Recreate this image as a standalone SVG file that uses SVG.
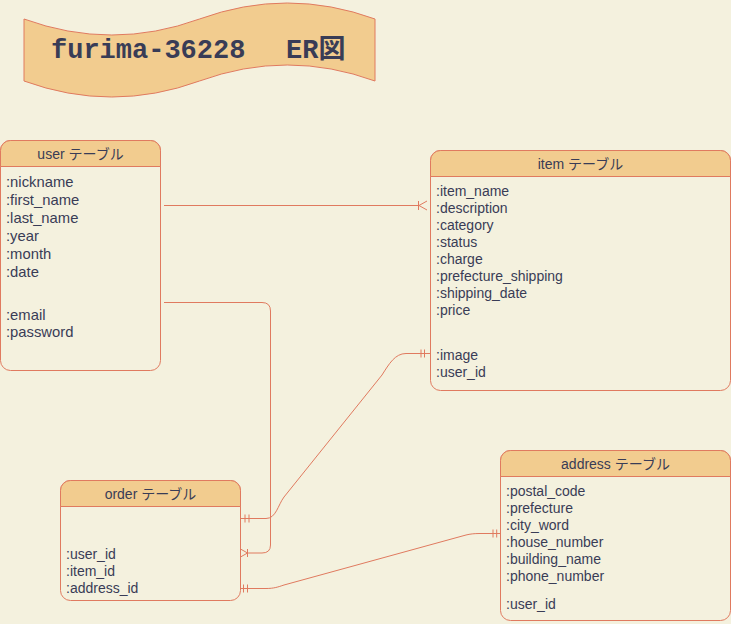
<svg xmlns="http://www.w3.org/2000/svg" width="731" height="624" viewBox="0 0 731 624">
<defs>
<style>
.bg{fill:#F4F1DE}
.box{fill:#F4F1DE;stroke:#E07A5F;stroke-width:1}
.hdr{fill:#F2CC8F;stroke:#E07A5F;stroke-width:1}
.t{font-family:"Liberation Sans","Noto Sans CJK JP",Arial,sans-serif;font-size:14px;fill:#393C56}
.th{font-family:"Liberation Sans","Noto Sans CJK JP",Arial,sans-serif;font-size:14px;fill:#393C56;text-anchor:middle}
.tu{font-size:14.8px}
.title{font-family:"Liberation Mono","Noto Sans CJK JP",monospace;font-size:27px;font-weight:bold;fill:#393C56}
.ln{fill:none;stroke:#E07A5F;stroke-width:1}
</style>
</defs>
<rect class="bg" x="0" y="0" width="731" height="624"/>

<g id="title">
<path d="M24,19 Q111.75,51 199.5,19 Q287.25,-13 375,19 L375,81 Q287.25,49 199.5,81 Q111.75,113 24,81 Z" fill="#F2CC8F" stroke="#E07A5F" stroke-width="1"/>
<text class="title" x="51" y="58">furima-36228<tspan x="286">ER図</tspan></text>
</g>

<g id="user">
<rect class="box" x="0.5" y="140.5" width="160" height="230" rx="10"/>
<path class="hdr" d="M0.5,166.5 V150.5 A10,10 0 0 1 10.5,140.5 H150.5 A10,10 0 0 1 160.5,150.5 V166.5 Z"/>
<text class="th" x="80.5" y="159">user テーブル</text>
<g class="t tu">
<text x="6" y="187.3">:nickname</text>
<text x="6" y="205">:first_name</text>
<text x="6" y="222.8">:last_name</text>
<text x="6" y="240.7">:year</text>
<text x="6" y="258.6">:month</text>
<text x="6" y="276.5">:date</text>
<text x="6" y="320">:email</text>
<text x="6" y="337.3">:password</text>
</g>
</g>

<g id="item">
<rect class="box" x="430.5" y="150.5" width="300" height="240" rx="10"/>
<path class="hdr" d="M430.5,176.5 V160.5 A10,10 0 0 1 440.5,150.5 H720.5 A10,10 0 0 1 730.5,160.5 V176.5 Z"/>
<text class="th" x="580.5" y="169">item テーブル</text>
<g class="t">
<text x="436" y="195.7">:item_name</text>
<text x="436" y="212.7">:description</text>
<text x="436" y="229.7">:category</text>
<text x="436" y="246.7">:status</text>
<text x="436" y="263.7">:charge</text>
<text x="436" y="280.7">:prefecture_shipping</text>
<text x="436" y="297.7">:shipping_date</text>
<text x="436" y="314.7">:price</text>
<text x="436" y="359.7">:image</text>
<text x="436" y="376.7">:user_id</text>
</g>
</g>

<g id="order">
<rect class="box" x="60.5" y="480.5" width="180" height="120" rx="10"/>
<path class="hdr" d="M60.5,506.5 V490.5 A10,10 0 0 1 70.5,480.5 H230.5 A10,10 0 0 1 240.5,490.5 V506.5 Z"/>
<text class="th" x="150.5" y="499.2">order テーブル</text>
<g class="t">
<text x="66" y="559">:user_id</text>
<text x="66" y="576">:item_id</text>
<text x="66" y="593.2">:address_id</text>
</g>
</g>

<g id="address">
<rect class="box" x="500.5" y="450.5" width="230" height="170" rx="10"/>
<path class="hdr" d="M500.5,476.5 V460.5 A10,10 0 0 1 510.5,450.5 H720.5 A10,10 0 0 1 730.5,460.5 V476.5 Z"/>
<text class="th" x="615.5" y="468.6">address テーブル</text>
<g class="t">
<text x="506" y="495.7">:postal_code</text>
<text x="506" y="512.7">:prefecture</text>
<text x="506" y="529.7">:city_word</text>
<text x="506" y="546.7">:house_number</text>
<text x="506" y="563.7">:building_name</text>
<text x="506" y="580.7">:phone_number</text>
<text x="506" y="609.3">:user_id</text>
</g>
</g>

<g id="connectors" class="ln">
<!-- user -> item (one to many) -->
<path d="M164,205.5 H419"/>
<path d="M418.5,201 V210 M419,205.5 L427,201 M419,205.5 L427,210"/>
<!-- user -> order (one to many) -->
<path d="M164,302.5 H262 Q270.5,302.5 270.5,311 V545 Q270.5,553 262,553 H247.5"/>
<path d="M247.5,549 V557 M247.5,553 L240.5,549 M247.5,553 L240.5,557"/>
<!-- item -> order (one to one) -->
<path d="M430,353.5 H406 C395,353.5 389,364 382,375 L284,497 C278,505 276,518.5 266,518.5 H240.5"/>
<path d="M421,349.5 V357.5 M424.5,349.5 V357.5 M245,514.5 V522.5 M249,514.5 V522.5"/>
<!-- address -> order (one to one) -->
<path d="M500,533.5 H480 C474,533.5 470,534 466,535 L284,585 C278,587 274,588.5 266,588.5 H240.5"/>
<path d="M493,529.5 V537.5 M496.7,529.5 V537.5 M243.5,584.5 V592.5 M247.5,584.5 V592.5"/>
</g>
</svg>
